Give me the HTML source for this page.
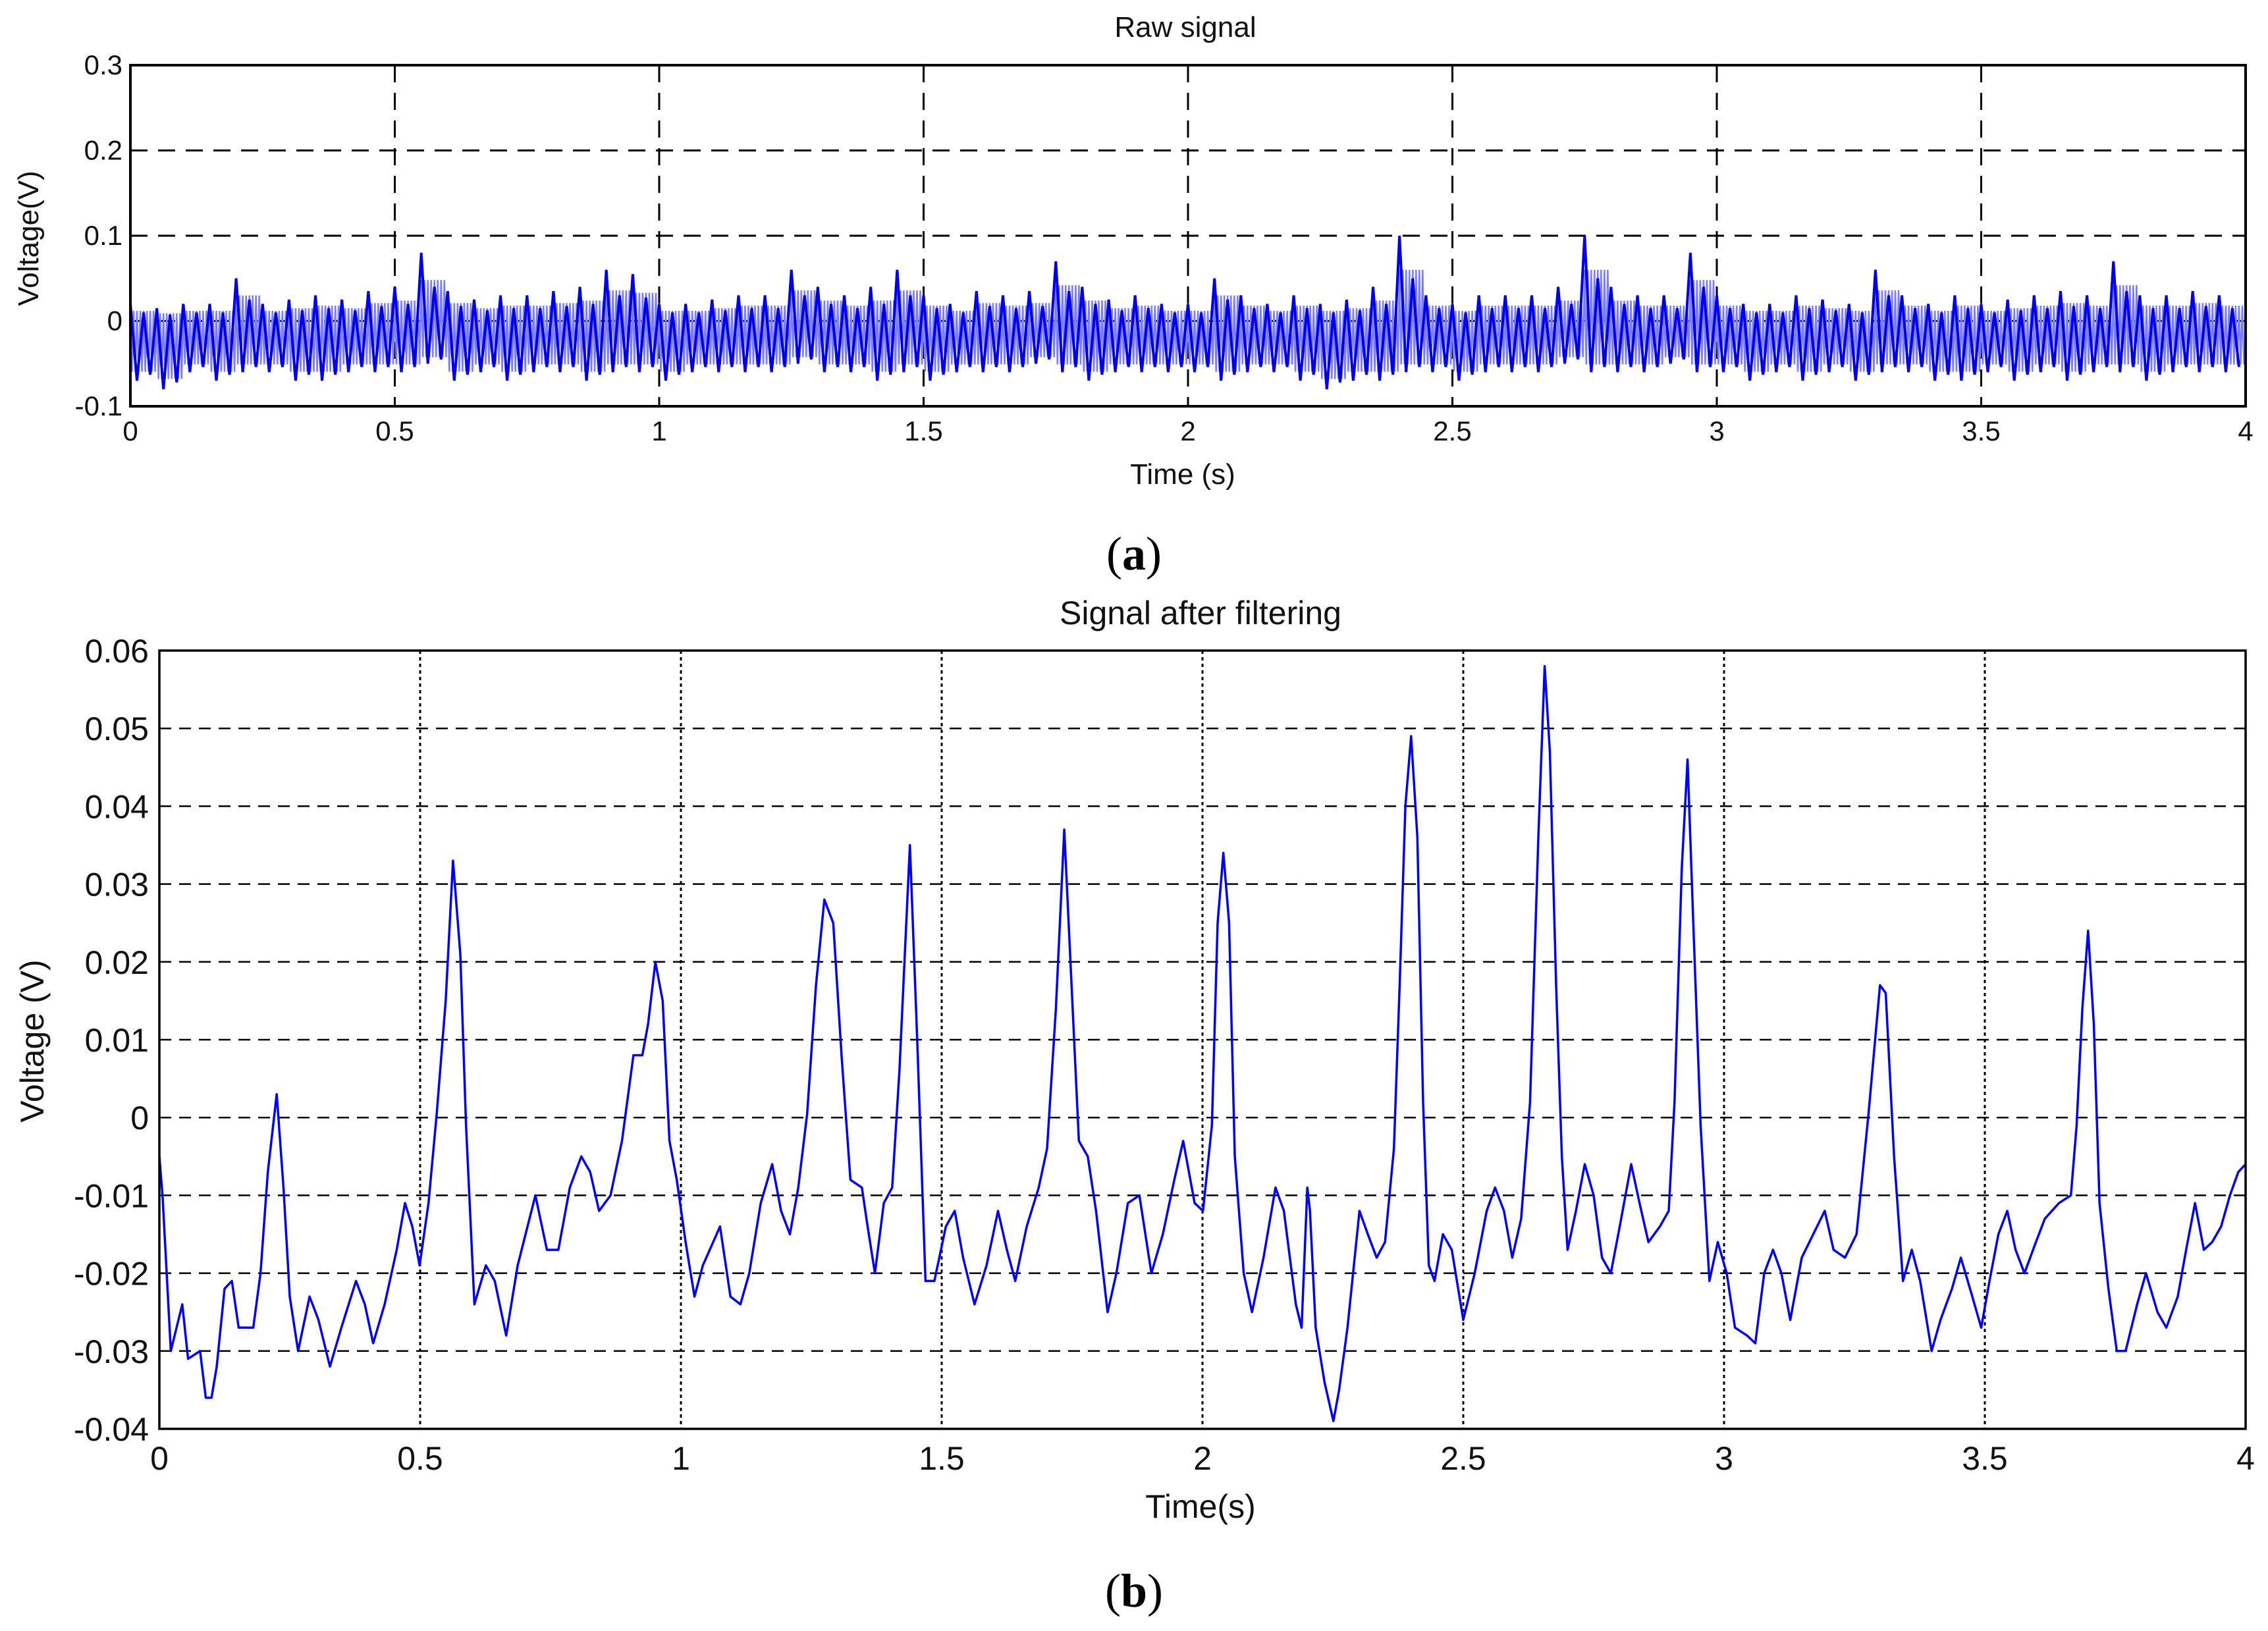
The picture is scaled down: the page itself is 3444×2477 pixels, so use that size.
<!DOCTYPE html>
<html><head><meta charset="utf-8"><style>
html,body{margin:0;padding:0;background:#fff;}
svg{display:block;font-family:"Liberation Sans",Arial,sans-serif;}
</style></head><body>
<svg id="fig" width="3444" height="2477" viewBox="0 0 3444 2477" xmlns="http://www.w3.org/2000/svg">
<rect width="3444" height="2477" fill="#fff"/>
<g id="top"></g>
<g id="bot"></g>
<text x="1722" y="865" font-family="Liberation Serif,serif" font-size="72" text-anchor="middle">(<tspan font-weight="bold">a</tspan>)</text>
<text x="1722" y="2440" font-family="Liberation Serif,serif" font-size="72" text-anchor="middle">(<tspan font-weight="bold">b</tspan>)</text>
</svg>
<script>
// ---- raw signal data (top) ----
const rawTimes = [];
for (let i = 0; i < 80; i++) rawTimes.push(i * 0.05);
const rawHigh = [
.02,.015,.02,.02,.05,.02,.025,.03,.025,.035,
.04,.08,.035,.025,.03,.03,.035,.04,.06,.055,
.02,.02,.025,.03,.03,.06,.04,.03,.04,.06,
.03,.02,.035,.03,.035,.07,.04,.025,.03,.02,
.02,.05,.03,.02,.03,.02,.025,.04,.10,.03,
.02,.03,.03,.03,.04,.10,.04,.03,.03,.08,
.03,.02,.02,.03,.025,.02,.06,.03,.02,.03,
.02,.025,.03,.035,.03,.07,.03,.03,.035,.03];
const rawLow = [
-.07,-.08,-.06,-.07,-.06,-.06,-.07,-.07,-.06,-.06,
-.06,-.05,-.07,-.06,-.07,-.06,-.06,-.07,-.06,-.06,
-.07,-.06,-.06,-.06,-.06,-.05,-.06,-.06,-.07,-.06,
-.07,-.06,-.06,-.06,-.05,-.06,-.07,-.06,-.06,-.06,
-.06,-.07,-.06,-.06,-.07,-.08,-.07,-.07,-.06,-.06,
-.07,-.06,-.06,-.06,-.05,-.06,-.06,-.06,-.05,-.06,
-.06,-.07,-.06,-.07,-.06,-.07,-.06,-.06,-.07,-.07,
-.06,-.07,-.06,-.07,-.06,-.06,-.07,-.06,-.06,-.06];
const topXTicks = ["0","0.5","1","1.5","2","2.5","3","3.5","4"];
const topYTicks = ["-0.1","0","0.1","0.2","0.3"];

// ---- filtered signal data (bottom) ----
const filtT = [0,0.006,0.022,0.044,0.055,0.078,0.089,0.1,0.11,0.125,0.139,0.152,0.18,0.194,0.208,0.225,0.238,0.25,0.266,0.288,0.305,0.327,0.349,0.377,0.394,0.41,0.432,0.455,0.471,0.485,0.499,0.516,0.532,0.549,0.563,0.577,0.588,0.604,0.626,0.643,0.665,0.687,0.721,0.743,0.765,0.787,0.809,0.826,0.843,0.865,0.887,0.909,0.926,0.937,0.951,0.965,0.978,0.992,1.009,1.026,1.042,1.075,1.095,1.114,1.131,1.153,1.175,1.192,1.209,1.225,1.242,1.259,1.275,1.292,1.308,1.325,1.347,1.358,1.372,1.389,1.405,1.419,1.439,1.453,1.469,1.486,1.508,1.525,1.541,1.563,1.586,1.608,1.625,1.641,1.663,1.686,1.702,1.719,1.735,1.749,1.763,1.78,1.796,1.818,1.835,1.857,1.879,1.902,1.924,1.946,1.963,1.985,2.001,2.018,2.029,2.04,2.051,2.062,2.079,2.095,2.117,2.14,2.156,2.179,2.19,2.201,2.206,2.217,2.234,2.251,2.262,2.278,2.301,2.317,2.334,2.35,2.367,2.378,2.389,2.4,2.412,2.423,2.434,2.445,2.461,2.478,2.5,2.522,2.545,2.561,2.578,2.594,2.611,2.628,2.644,2.656,2.666,2.678,2.689,2.7,2.716,2.733,2.75,2.766,2.783,2.8,2.822,2.838,2.855,2.877,2.894,2.905,2.919,2.93,2.941,2.955,2.972,2.988,3.005,3.021,3.044,3.06,3.077,3.094,3.11,3.127,3.149,3.171,3.193,3.21,3.232,3.254,3.277,3.299,3.31,3.326,3.343,3.36,3.376,3.398,3.415,3.437,3.454,3.476,3.493,3.509,3.526,3.543,3.559,3.576,3.598,3.615,3.642,3.665,3.676,3.687,3.698,3.709,3.72,3.737,3.753,3.77,3.792,3.809,3.831,3.848,3.87,3.886,3.903,3.92,3.936,3.953,3.97,3.986,4.0];
const filtV = [-0.005,-0.01,-0.03,-0.024,-0.031,-0.03,-0.036,-0.036,-0.032,-0.022,-0.021,-0.027,-0.027,-0.02,-0.007,0.003,-0.009,-0.023,-0.03,-0.023,-0.026,-0.032,-0.027,-0.021,-0.024,-0.029,-0.024,-0.017,-0.011,-0.014,-0.019,-0.011,0.0006,0.015,0.033,0.021,-0.001,-0.024,-0.019,-0.021,-0.028,-0.019,-0.01,-0.017,-0.017,-0.009,-0.005,-0.007,-0.012,-0.01,-0.003,0.008,0.008,0.012,0.02,0.015,-0.003,-0.008,-0.016,-0.023,-0.019,-0.014,-0.023,-0.024,-0.02,-0.011,-0.006,-0.012,-0.015,-0.009,0.0005,0.017,0.028,0.025,0.008,-0.008,-0.009,-0.014,-0.02,-0.011,-0.009,0.006,0.035,0.01,-0.021,-0.021,-0.014,-0.012,-0.018,-0.024,-0.019,-0.012,-0.017,-0.021,-0.014,-0.009,-0.004,0.014,0.037,0.017,-0.003,-0.005,-0.012,-0.025,-0.02,-0.011,-0.01,-0.02,-0.015,-0.008,-0.003,-0.011,-0.012,-0.001,0.025,0.034,0.025,-0.005,-0.02,-0.025,-0.018,-0.009,-0.012,-0.024,-0.027,-0.009,-0.012,-0.027,-0.034,-0.039,-0.035,-0.027,-0.012,-0.015,-0.018,-0.016,-0.004,0.017,0.04,0.049,0.036,0.002,-0.019,-0.021,-0.015,-0.017,-0.026,-0.02,-0.012,-0.009,-0.012,-0.018,-0.013,0.002,0.036,0.058,0.047,0.017,-0.005,-0.017,-0.012,-0.006,-0.01,-0.018,-0.02,-0.014,-0.006,-0.011,-0.016,-0.014,-0.012,0.002,0.032,0.046,0.025,-0.001,-0.021,-0.016,-0.02,-0.027,-0.028,-0.029,-0.02,-0.017,-0.02,-0.026,-0.018,-0.015,-0.012,-0.017,-0.018,-0.015,0.0005,0.017,0.016,-0.005,-0.021,-0.017,-0.021,-0.03,-0.026,-0.022,-0.018,-0.023,-0.027,-0.021,-0.015,-0.012,-0.017,-0.02,-0.016,-0.013,-0.011,-0.01,-0.001,0.014,0.024,0.012,-0.011,-0.022,-0.03,-0.03,-0.024,-0.02,-0.025,-0.027,-0.023,-0.017,-0.011,-0.017,-0.016,-0.014,-0.01,-0.007,-0.006];
const botXTicks = ["0","0.5","1","1.5","2","2.5","3","3.5","4"];
const botYTicks = ["-0.04","-0.03","-0.02","-0.01","0","0.01","0.02","0.03","0.04","0.05","0.06"];

const NS = "http://www.w3.org/2000/svg";
function mk(parent, tag, attrs, text) {
  const e = document.createElementNS(NS, tag);
  for (const k in attrs) e.setAttribute(k, attrs[k]);
  if (text !== undefined) e.textContent = text;
  parent.appendChild(e);
  return e;
}

// ---------- TOP ----------
(function(){
  const g = document.getElementById('top');
  const L=198,R=3410,T=99,B=617;
  const xs = t => L + (t/4)*(R-L);
  const ys = v => B - (v+0.1)/0.4*(B-T);
  topXTicks.forEach((lab,i)=>{
    const x = xs(i*0.5);
    if (i>0 && i<topXTicks.length-1) {
      const ln = mk(g,'line',{x1:x,y1:T,x2:x,y2:B,stroke:'#000','stroke-width':3,'stroke-dasharray':'26 16'});
      
      
    }
    const tx = mk(g,'text',{x:x,y:B+52,'font-size':42,'text-anchor':'middle',fill:'#111'},lab);
    
    
  });
  topYTicks.forEach((lab,i)=>{
    const v = -0.1 + i*0.1;
    const y = ys(v);
    if (i>0 && i<topYTicks.length-1) {
      const ln = mk(g,'line',{x1:L,y1:y,x2:R,y2:y,stroke:'#000','stroke-width':3,'stroke-dasharray':'26 16'});
      
      
    }
    const tx = mk(g,'text',{x:L-12,y:y+14,'font-size':42,'text-anchor':'end',fill:'#111'},lab);
    
    
  });
  let light='', dark='';
  for (let i=0;i<rawTimes.length;i++){
    const t0=rawTimes[i], dt=0.05;
    const h=rawHigh[i], l=rawLow[i];
    for (let k=0;k<8;k++){
      const ta=t0+dt*k/8, tb=t0+dt*(k+0.5)/8;
      light += (light?'L':'M')+xs(ta).toFixed(1)+','+ys(h*0.6).toFixed(1)+'L'+xs(tb).toFixed(1)+','+ys(l*0.85).toFixed(1);
    }
    dark += (dark?'L':'M')+xs(t0).toFixed(1)+','+ys(h).toFixed(1)+'L'+xs(t0+dt/4).toFixed(1)+','+ys(l).toFixed(1)
         +'L'+xs(t0+dt/2).toFixed(1)+','+ys(h*0.5).toFixed(1)+'L'+xs(t0+3*dt/4).toFixed(1)+','+ys(l*0.9).toFixed(1);
  }
  const p1 = mk(g,'path',{d:light,fill:'none',stroke:'#7c7cff','stroke-width':2.5});
  
  
  const p2 = mk(g,'path',{d:dark,fill:'none',stroke:'#0000ee','stroke-width':4});
  
  
  const fr = mk(g,'rect',{x:L,y:T,width:R-L,height:B-T,fill:'none',stroke:'#000','stroke-width':4});
  
  
  const tt = mk(g,'text',{x:1800,y:56,'font-size':44,'text-anchor':'middle',fill:'#111'},'Raw signal');
  
  
  const xl = mk(g,'text',{x:1796,y:735,'font-size':44,'text-anchor':'middle',fill:'#111'},'Time (s)');
  
  
  const yl = mk(g,'text',{x:0,y:0,'font-size':44,'text-anchor':'middle',fill:'#111',transform:'translate(58,362) rotate(-90)'},'Voltage(V)');
  
  
})();

// ---------- BOTTOM ----------
(function(){
  const g = document.getElementById('bot');
  const L=242,R=3410,T=988,B=2170;
  const xs = t => L + (t/4)*(R-L);
  const ys = v => B - (v+0.04)/0.1*(B-T);
  botXTicks.forEach((lab,i)=>{
    const x = xs(i*0.5);
    if (i>0 && i<botXTicks.length-1) {
      const ln = mk(g,'line',{x1:x,y1:T,x2:x,y2:B,stroke:'#000','stroke-width':3,'stroke-dasharray':'5 5'});
      
      
    }
    const tx = mk(g,'text',{x:x,y:B+62,'font-size':50,'text-anchor':'middle',fill:'#111'},lab);
    
    
  });
  botYTicks.forEach((lab,i)=>{
    const v = -0.04 + i*0.01;
    const y = ys(v);
    if (i>0 && i<botYTicks.length-1) {
      const ln = mk(g,'line',{x1:L,y1:y,x2:R,y2:y,stroke:'#000','stroke-width':2.5,'stroke-dasharray':'18 12'});
      
      
    }
    const tx = mk(g,'text',{x:L-16,y:y+18,'font-size':50,'text-anchor':'end',fill:'#111'},lab);
    
    
  });
  let d='';
  for (let i=0;i<filtT.length;i++) d += (i?'L':'M')+xs(filtT[i]).toFixed(1)+','+ys(filtV[i]).toFixed(1);
  const p = mk(g,'path',{d:d,fill:'none',stroke:'#0000ff','stroke-width':3.5,'stroke-linejoin':'round'});
  
  
  const fr = mk(g,'rect',{x:L,y:T,width:R-L,height:B-T,fill:'none',stroke:'#000','stroke-width':3.5});
  
  
  const tt = mk(g,'text',{x:1823,y:948,'font-size':50,'text-anchor':'middle',fill:'#111'},'Signal after filtering');
  
  
  const xl = mk(g,'text',{x:1823,y:2305,'font-size':50,'text-anchor':'middle',fill:'#111'},'Time(s)');
  
  
  const yl = mk(g,'text',{x:0,y:0,'font-size':50,'text-anchor':'middle',fill:'#111',transform:'translate(66,1581) rotate(-90)'},'Voltage (V)');
  
  
})();
</script>
</body></html>
